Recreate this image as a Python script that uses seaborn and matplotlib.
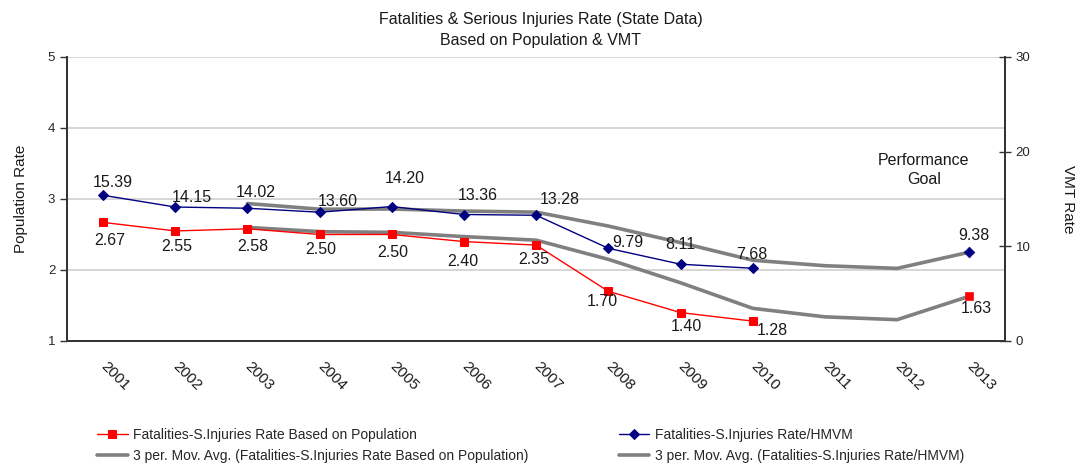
import numpy as np
import pandas as pd
import matplotlib
matplotlib.use('Agg')
import matplotlib.pyplot as plt
import seaborn as sns

years = ['2001', '2002', '2003', '2004', '2005', '2006', '2007',
         '2008', '2009', '2010', '2011', '2012', '2013']

# actual rates 2001-2010, goal year 2013
pop_rate = [2.67, 2.55, 2.58, 2.50, 2.50, 2.40, 2.35, 1.70, 1.40, 1.28]
hmvm_rate = [15.39, 14.15, 14.02, 13.60, 14.20, 13.36, 13.28, 9.79, 8.11, 7.68]
pop_goal = 1.63
hmvm_goal = 9.38

# 3 period moving averages, 2003-2013
pop_ma = [2.60, 2.54, 2.53, 2.47, 2.42, 2.15, 1.82, 1.46, 1.34, 1.30, 1.63]
hmvm_ma = [14.52, 13.92, 13.94, 13.72, 13.61, 12.14, 10.39, 8.53, 7.95, 7.67, 9.38]

lbl_pop = 'Fatalities-S.Injuries Rate Based on Population'
lbl_hmvm = 'Fatalities-S.Injuries Rate/HMVM'
lbl_pop_ma = '3 per. Mov. Avg. (Fatalities-S.Injuries Rate Based on Population)'
lbl_hmvm_ma = '3 per. Mov. Avg. (Fatalities-S.Injuries Rate/HMVM)'

sns.set_style('white')
plt.rcParams['font.family'] = ['Liberation Sans', 'DejaVu Sans']

idx = np.arange(len(years))
df_act = pd.DataFrame({'x': idx[:10], 'pop': pop_rate, 'hmvm': hmvm_rate})
df_ma = pd.DataFrame({'x': idx[2:], 'pop': pop_ma, 'hmvm': hmvm_ma})
goal_x = idx[-1]

fig = plt.figure(figsize=(10.81, 4.63), dpi=100)
ax = fig.add_axes([0.062, 0.2635, 0.868, 0.6135])
ax2 = ax.twinx()

red = '#ff0000'
navy = '#000080'
gray = '#808080'
txt = '#1a1a1a'

# population (left axis)
sns.lineplot(data=df_ma, x='x', y='pop', ax=ax, color=gray, linewidth=2.6,
             label=lbl_pop_ma, zorder=2, legend=False)
sns.lineplot(data=df_act, x='x', y='pop', ax=ax, color=red, linewidth=1,
             marker='s', markersize=6, markeredgecolor=red, label=lbl_pop,
             zorder=3, legend=False)
sns.scatterplot(x=[goal_x], y=[pop_goal], ax=ax, color=red, marker='s', s=36,
                edgecolor=red, zorder=4, legend=False)

# HMVM (right axis)
sns.lineplot(data=df_ma, x='x', y='hmvm', ax=ax2, color=gray, linewidth=2.6,
             label=lbl_hmvm_ma, zorder=2, legend=False)
sns.lineplot(data=df_act, x='x', y='hmvm', ax=ax2, color=navy, linewidth=1,
             marker='D', markersize=5.5, markeredgecolor=navy, label=lbl_hmvm,
             zorder=3, legend=False)
sns.scatterplot(x=[goal_x], y=[hmvm_goal], ax=ax2, color=navy, marker='D', s=30,
                edgecolor=navy, zorder=4, legend=False)

# data labels (offsets in points)
pop_off = [(5, -13), (1, -11), (4, -13), (1, -11), (1, -13), (-1, -14), (-2, -10),
           (-4, -7), (4, -10), (14, -7)]
hmvm_off = [(7, 9), (12, 7), (6, 11), (13, 8), (9, 20), (10, 14), (17, 11),
            (14, 4), (0, 14), (-1, 10)]
for i, v in enumerate(pop_rate):
    ax.annotate(f'{v:.2f}', (idx[i], v), xytext=pop_off[i], textcoords='offset points',
                ha='center', va='center', fontsize=11.5, color=txt)
ax.annotate(f'{pop_goal:.2f}', (goal_x, pop_goal), xytext=(5, -9),
            textcoords='offset points', ha='center', va='center', fontsize=11.5, color=txt)
for i, v in enumerate(hmvm_rate):
    ax2.annotate(f'{v:.2f}', (idx[i], v), xytext=hmvm_off[i], textcoords='offset points',
                 ha='center', va='center', fontsize=11.5, color=txt)
ax2.annotate(f'{hmvm_goal:.2f}', (goal_x, hmvm_goal), xytext=(3, 12),
             textcoords='offset points', ha='center', va='center', fontsize=11.5, color=txt)

ax2.text(11.37, 18.1, 'Performance\nGoal', ha='center', va='center', fontsize=11.5,
         color=txt, linespacing=1.35)

# axes
ax.set_xlim(-0.5, len(years) - 0.5)
ax.set_ylim(1, 5)
ax2.set_ylim(0, 30)
ax.set_yticks([1, 2, 3, 4, 5])
ax2.set_yticks([0, 10, 20, 30])
ax.set_xticks(idx)
ax.set_xticklabels(years, rotation=-45, ha='left', va='center',
                   rotation_mode='anchor', fontsize=11, color=txt)
ax.set_xticks(np.arange(-0.5, len(years)), minor=True)
ax.tick_params(axis='x', which='major', length=0, pad=17)
ax.tick_params(axis='x', which='minor', length=5, width=1, color='#333333', direction='out')
ax.tick_params(axis='y', length=5, width=1, color='#333333', direction='out', labelsize=9.5)
ax2.tick_params(axis='y', length=8, width=1, color='#333333', direction='inout', labelsize=9.5)
ax.set_xlabel('')
ax.set_ylabel('Population Rate', fontsize=11, labelpad=14, color=txt)
ax2.set_ylabel('VMT Rate', fontsize=11, rotation=270, labelpad=32, color=txt)

ax.grid(axis='y', color='#d0d0d0', linewidth=1.2)
ax.set_axisbelow(True)
for a in (ax, ax2):
    a.spines['top'].set_visible(False)
    for s in ('left', 'right', 'bottom'):
        a.spines[s].set_color('#333333')
        a.spines[s].set_linewidth(1.3)

fig.text(0.5, 1 - 30 / 463, 'Fatalities & Serious Injuries Rate (State Data)\nBased on Population & VMT',
         ha='center', va='center', fontsize=11.5, linespacing=1.45, color=txt)

# legend
h1, l1 = ax.get_legend_handles_labels()
h2, l2 = ax2.get_legend_handles_labels()
hd = dict(zip(l1 + l2, h1 + h2))
order = [lbl_pop, lbl_pop_ma, lbl_hmvm, lbl_hmvm_ma]
fig.legend([hd[k] for k in order], order, ncol=2, loc='upper left',
           bbox_to_anchor=(0.0897, 1 - 428 / 463), frameon=False,
           columnspacing=6.5, handlelength=2.2, handletextpad=0.4,
           labelspacing=0.5, borderpad=0, borderaxespad=0,
           prop={'family': ['Liberation Sans Narrow', 'Liberation Sans'], 'size': 10})

fig.savefig('out.png', dpi=100)
